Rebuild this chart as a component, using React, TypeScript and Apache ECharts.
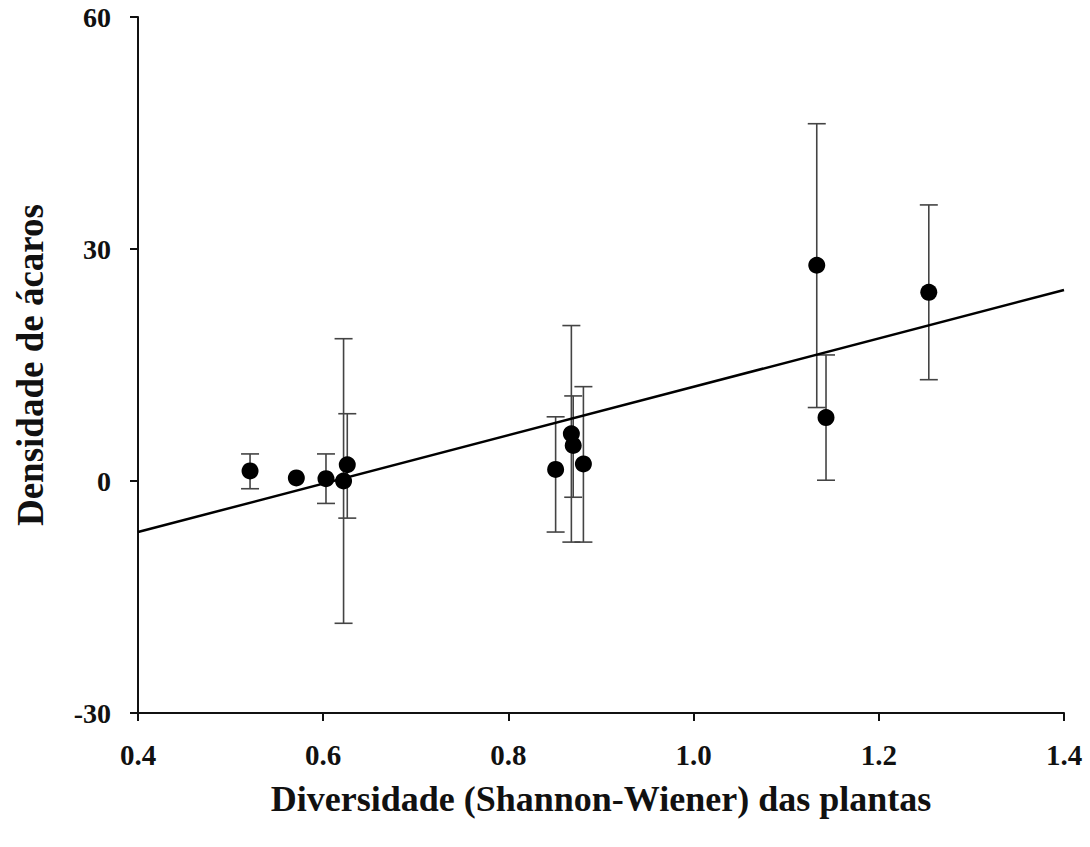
import React, { useEffect, useRef } from "react";
import * as echarts from "echarts";

// Plant diversity (Shannon-Wiener) per site
const diversity = [0.521, 0.571, 0.603, 0.622, 0.626, 0.851, 0.868, 0.87, 0.881, 1.133, 1.143, 1.254];
// Mean mite density
const density = [1.3, 0.4, 0.3, 0.0, 2.1, 1.5, 6.1, 4.6, 2.2, 27.9, 8.2, 24.4];
// Error bar lower / upper limits (null = no bar)
const errLow: (number | null)[] = [-1.0, null, -2.9, -18.4, -4.8, -6.6, -7.9, -2.1, -7.9, 9.5, 0.1, 13.1];
const errHigh: (number | null)[] = [3.5, null, 3.5, 18.4, 8.7, 8.3, 20.1, 11.0, 12.2, 46.2, 16.3, 35.7];
// Regression line end points
const trendX = [0.4, 1.4];
const trendY = [-6.6, 24.7];

const xTicks = { min: 0.4, max: 1.4, interval: 0.2 };
const yTicks = { min: -30, max: 60, interval: 30 };

const FONT = "'Liberation Serif', 'Times New Roman', serif";

export default function App() {
  const ref = useRef<HTMLDivElement>(null);
  useEffect(() => {
    if (!ref.current) return;
    const chart = echarts.init(ref.current, null, { renderer: "svg" });
    const points = diversity.map((x, i) => [x, density[i]]);
    const bars = diversity
      .map((x, i) => [x, errLow[i], errHigh[i]])
      .filter((d) => d[1] !== null && d[2] !== null);
    const trend = trendX.map((x, i) => [x, trendY[i]]);
    chart.setOption({
      animation: false,
      backgroundColor: "#fff",
      grid: { left: 138, right: 26, top: 17, bottom: 134 },
      xAxis: {
        type: "value",
        min: xTicks.min,
        max: xTicks.max,
        interval: xTicks.interval,
        name: "Diversidade (Shannon-Wiener) das plantas",
        nameLocation: "middle",
        nameGap: 68,
        nameTextStyle: { fontFamily: FONT, fontWeight: "bold", fontSize: 36, color: "#111" },
        axisLine: { onZero: false, lineStyle: { color: "#111", width: 2 } },
        axisTick: { show: true, length: 8, lineStyle: { color: "#111", width: 2 } },
        axisLabel: {
          fontFamily: FONT,
          fontWeight: "bold",
          fontSize: 29,
          color: "#111",
          margin: 27,
          formatter: (v: number) => v.toFixed(1),
        },
        splitLine: { show: false },
      },
      yAxis: {
        type: "value",
        min: yTicks.min,
        max: yTicks.max,
        interval: yTicks.interval,
        name: "Densidade de ácaros",
        nameLocation: "middle",
        nameGap: 89,
        nameTextStyle: { fontFamily: FONT, fontWeight: "bold", fontSize: 37, color: "#111" },
        axisLine: { onZero: false, lineStyle: { color: "#111", width: 2 } },
        axisTick: { show: true, length: 8, lineStyle: { color: "#111", width: 2 } },
        axisLabel: {
          fontFamily: FONT,
          fontWeight: "bold",
          fontSize: 28,
          color: "#111",
          margin: 27,
        },
        splitLine: { show: false },
      },
      series: [
        {
          type: "custom",
          z: 1,
          data: bars,
          renderItem: (params: any, api: any) => {
            const x = api.value(0);
            const top = api.coord([x, api.value(2)]);
            const bot = api.coord([x, api.value(1)]);
            const hw = 9;
            const style = { stroke: "#444", lineWidth: 1.6 };
            return {
              type: "group",
              children: [
                { type: "line", shape: { x1: top[0], y1: top[1], x2: bot[0], y2: bot[1] }, style },
                { type: "line", shape: { x1: top[0] - hw, y1: top[1], x2: top[0] + hw, y2: top[1] }, style },
                { type: "line", shape: { x1: bot[0] - hw, y1: bot[1], x2: bot[0] + hw, y2: bot[1] }, style },
              ],
            };
          },
        },
        {
          type: "line",
          z: 2,
          data: trend,
          symbol: "none",
          lineStyle: { color: "#000", width: 2.5 },
        },
        {
          type: "scatter",
          z: 3,
          data: points,
          symbol: "circle",
          symbolSize: 17,
          itemStyle: { color: "#000", opacity: 1 },
        },
      ],
    });
    return () => chart.dispose();
  }, []);
  return (
    <div
      ref={ref}
      style={{ position: "fixed", left: 0, top: 0, width: 1090, height: 847, background: "#fff" }}
    />
  );
}
